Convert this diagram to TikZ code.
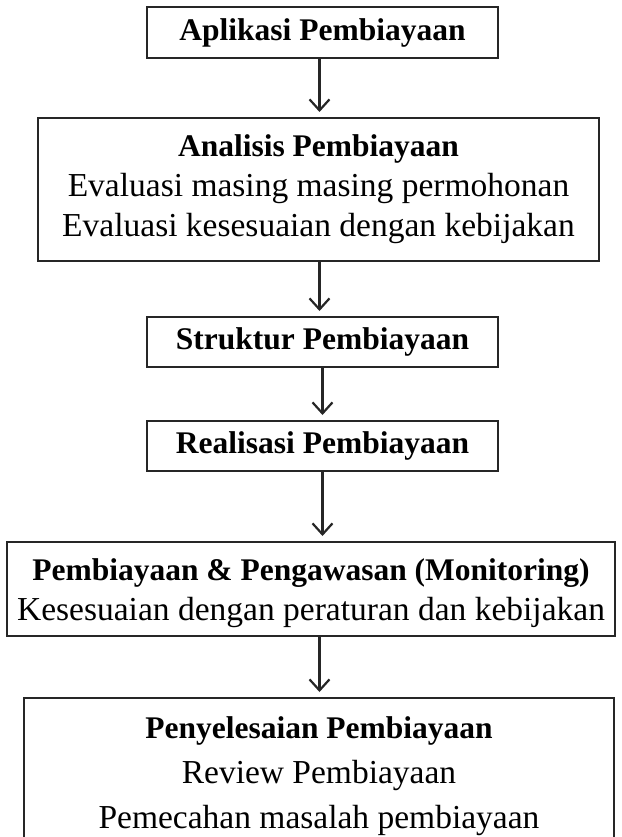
\documentclass[tikz,border=0pt]{standalone}
\usepackage{fontspec}
\setmainfont{Liberation Serif}
\usetikzlibrary{arrows.meta}
\newcommand{\hd}[1]{{\fontsize{31.5}{40}\selectfont\bfseries #1}}
\tikzset{
  box/.style={draw=black!85, line width=2pt, align=center, inner sep=0pt, anchor=north west},
  flow/.style={-{Straight Barb[length=11pt,width=20pt]}, line width=2.2pt, black!85, shorten >=5pt},
  txt/.style={font=\fontsize{33.5}{40}\selectfont},
  txtb/.style={font=\fontsize{33.5}{45}\selectfont}
}
\begin{document}
\begin{tikzpicture}[x=1pt,y=-1pt]
\clip (0,0) rectangle (621,837);
\node[box, txt, minimum width=351pt, minimum height=51pt] (b1) at (146,6) {\hd{Aplikasi Pembiayaan}};
\node[box, txt, minimum width=561pt, minimum height=143pt] (b2) at (37,117) {\hd{Analisis Pembiayaan}\\Evaluasi masing masing permohonan\\Evaluasi kesesuaian dengan kebijakan};
\node[box, txt, minimum width=351pt, minimum height=50pt] (b3) at (146,316) {\hd{Struktur Pembiayaan}};
\node[box, txt, minimum width=351pt, minimum height=50pt] (b4) at (146,420) {\hd{Realisasi Pembiayaan}};
\node[box, txt, minimum width=608pt, minimum height=94pt] (b5) at (6,541) {\rule{0pt}{30pt}\hd{Pembiayaan \& Pengawasan (Monitoring)}\\Kesesuaian dengan peraturan dan kebijakan};
\node[box, txtb, minimum width=590pt, minimum height=156pt] (b6) at (23,697) {\hd{Penyelesaian Pembiayaan}\\Review Pembiayaan\\Pemecahan masalah pembiayaan};
\coordinate (a1) at (319.5,58);
\draw[flow] (a1) -- (a1 |- b2.north);
\draw[flow] (b2.south -| a1) -- (a1 |- b3.north);
\draw[flow] (b3.south) -- (b4.north);
\draw[flow] (b4.south) -- (b4.south |- b5.north);
\draw[flow] (b5.south -| a1) -- (a1 |- b6.north);
\end{tikzpicture}
\end{document}
